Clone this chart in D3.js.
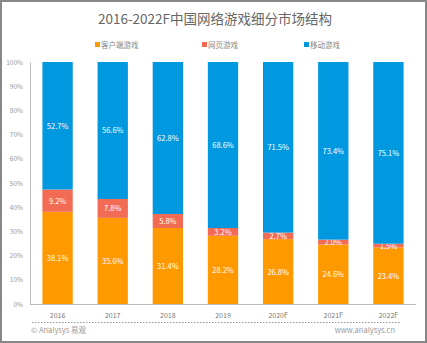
<!DOCTYPE html>
<html><head><meta charset="utf-8">
<script src="https://cdn.jsdelivr.net/npm/d3@7"></script>
<style>body{margin:0;background:#fff}svg{display:block}</style>
</head><body>
<script>
const categories = ["2016","2017","2018","2019","2020F","2021F","2022F"];
const clientGames = [38.1,35.6,31.4,28.2,26.8,24.6,23.4];
const webGames = [9.2,7.8,5.8,3.2,2.7,2.0,1.5];
const mobileGames = [52.7,56.6,62.8,68.6,71.5,73.4,75.1];
const seriesNames = ["客户端游戏","网页游戏","移动游戏"];
const yTicks = [0,10,20,30,40,50,60,70,80,90,100];
const colors = ["#FF9900","#F26B55","#0098DF"];

const W=427,H=343;
const svg=d3.select("body").append("svg").attr("width",W).attr("height",H);
svg.append("rect").attr("x",1).attr("y",1).attr("width",W-2).attr("height",H-2).attr("fill","#fff").attr("stroke","#888").attr("stroke-width",2);
const font="'Noto Sans CJK SC','Noto Sans',sans-serif";
svg.append("text").attr("x",215).attr("y",24).attr("text-anchor","middle").attr("font-family",font).attr("font-size",13.5).attr("fill","#666").text("2016-2022F中国网络游戏细分市场结构");

const legX=[95,202,304];
seriesNames.forEach((n,i)=>{
  svg.append("rect").attr("x",legX[i]).attr("y",42).attr("width",5).attr("height",5).attr("fill",colors[i]);
  svg.append("text").attr("x",legX[i]+6).attr("y",48).attr("font-family",font).attr("font-size",7.5).attr("fill","#888").text(n);
});

const x=d3.scaleBand().domain(categories).range([30,416]).paddingInner(0.45).paddingOuter(0.225);
const y=d3.scaleLinear().domain([0,100]).range([304,62]);

const data=categories.map((c,i)=>({cat:c,v:[clientGames[i],webGames[i],mobileGames[i]]}));
const g=svg.append("g");
data.forEach(d=>{
  let acc=0;
  d.v.forEach((v,j)=>{
    let top=Math.min(acc+v,100);
    g.append("rect").attr("x",x(d.cat)).attr("width",x.bandwidth()).attr("y",y(top)).attr("height",y(acc)-y(top)).attr("fill",colors[j]);
    g.append("text").attr("x",x(d.cat)+x.bandwidth()/2).attr("y",(y(acc)+y(top))/2+3).attr("text-anchor","middle").attr("font-family",font).attr("font-size",7.5).attr("fill","#fff").text(v.toFixed(1)+"%");
    acc=top;
  });
});

const ya=svg.append("g").attr("transform","translate(30,0)").call(d3.axisLeft(y).tickValues(yTicks).tickSize(0).tickPadding(7).tickFormat(d=>d+"%"));
ya.select(".domain").attr("stroke","#bbb");
ya.selectAll("text").attr("font-family",font).attr("font-size",6.5).attr("fill","#999");
const xa=svg.append("g").attr("transform","translate(0,304)").call(d3.axisBottom(x).tickSize(0).tickPadding(9));
xa.select(".domain").attr("stroke","#bbb").attr("d","M30,0.5H416");
xa.selectAll("text").attr("font-family",font).attr("font-size",7).attr("fill","#777");

svg.append("line").attr("x1",32).attr("x2",400).attr("y1",322.5).attr("y2",322.5).attr("stroke","#999").attr("stroke-dasharray","1.5,1.5");
svg.append("text").attr("x",31).attr("y",333).attr("font-family",font).attr("font-size",7.5).attr("fill","#999").text("© Analysys 易观");
svg.append("text").attr("x",395).attr("y",333).attr("text-anchor","end").attr("font-family",font).attr("font-size",7.5).attr("fill","#999").text("www.analysys.cn");
</script>
</body></html>
